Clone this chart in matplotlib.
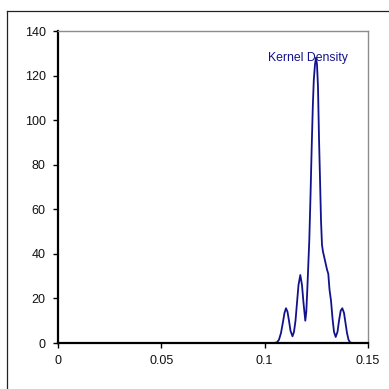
import matplotlib
matplotlib.use("Agg")
import matplotlib.pyplot as plt
from matplotlib.lines import Line2D

plt.rcParams['font.family'] = ['Liberation Sans', 'DejaVu Sans']

# Kernel density estimate (x, density)
density_x = [0.10451, 0.10597, 0.10693, 0.10790, 0.10887, 0.10959, 0.11032,
             0.11105, 0.11177, 0.11250, 0.11347, 0.11419, 0.11492, 0.11564,
             0.11637, 0.11724, 0.11806, 0.11879, 0.11966, 0.12014, 0.12063,
             0.12111, 0.12159, 0.12218, 0.12276, 0.12329, 0.12377, 0.12435,
             0.12484, 0.12532, 0.12580, 0.12629, 0.12677, 0.12726, 0.12774,
             0.12822, 0.12919, 0.13016, 0.13079, 0.13137, 0.13210, 0.13283,
             0.13355, 0.13437, 0.13524, 0.13597, 0.13679, 0.13756, 0.13839,
             0.13911, 0.13984, 0.14056, 0.14129, 0.14226]
density_y = [0.0, 0.3, 1.5, 4.5, 9.5, 13.5, 15.6,
             14.0, 10.0, 5.5, 3.0, 5.0, 10.0, 18.0,
             26.0, 30.5, 26.0, 18.0, 10.0, 14.0, 24.0,
             35.0, 46.0, 66.0, 88.0, 106.0, 118.0, 125.0,
             128.0, 125.0, 115.0, 92.0, 74.0, 55.0, 44.0,
             41.0, 37.0, 33.0, 31.0, 24.0, 19.0, 11.0,
             5.0, 2.7, 5.0, 10.0, 14.5, 15.6, 13.5,
             9.0, 4.5, 1.5, 0.3, 0.0]

x_ticks = [0, 0.05, 0.1, 0.15]
x_tick_labels = ["0", "0.05", "0.1", "0.15"]
y_ticks = [0, 20, 40, 60, 80, 100, 120, 140]
y_tick_labels = ["0", "20", "40", "60", "80", "100", "120", "140"]
series_label = "Kernel Density"

line_color = "#12128c"

fig = plt.figure(figsize=(3.89, 3.89), dpi=100)
fig.patch.set_facecolor("white")

# chart-area frame (top and left edges)
fig.add_artist(Line2D([7 / 389, 1.05], [1 - 10.7 / 389] * 2,
                      transform=fig.transFigure, color="#222222", lw=0.9))
fig.add_artist(Line2D([7 / 389] * 2, [-0.05, 1 - 10.7 / 389],
                      transform=fig.transFigure, color="#222222", lw=0.9))

ax = fig.add_axes([58 / 389, 1 - 343 / 389, 310 / 389, 312 / 389])
ax.plot(density_x, density_y, color=line_color, lw=1.3, solid_joinstyle="round")

ax.set_xlim(0, 0.15)
ax.set_ylim(0, 140)
ax.set_xticks(x_ticks)
ax.set_xticklabels(x_tick_labels)
ax.set_yticks(y_ticks)
ax.set_yticklabels(y_tick_labels)

for side in ("left", "bottom"):
    ax.spines[side].set_color("black")
    ax.spines[side].set_linewidth(1.6)
for side in ("top", "right"):
    ax.spines[side].set_color("#8c8c8c")
    ax.spines[side].set_linewidth(1.0)

ax.tick_params(axis="both", direction="out", length=3.8, width=1.0,
               color="black", labelsize=9, labelcolor="#111111", pad=5)

ax.text(0.1017, 128, series_label, color=line_color, fontsize=8.8,
        ha="left", va="center")

fig.savefig("out.png", dpi=100, facecolor="white")
